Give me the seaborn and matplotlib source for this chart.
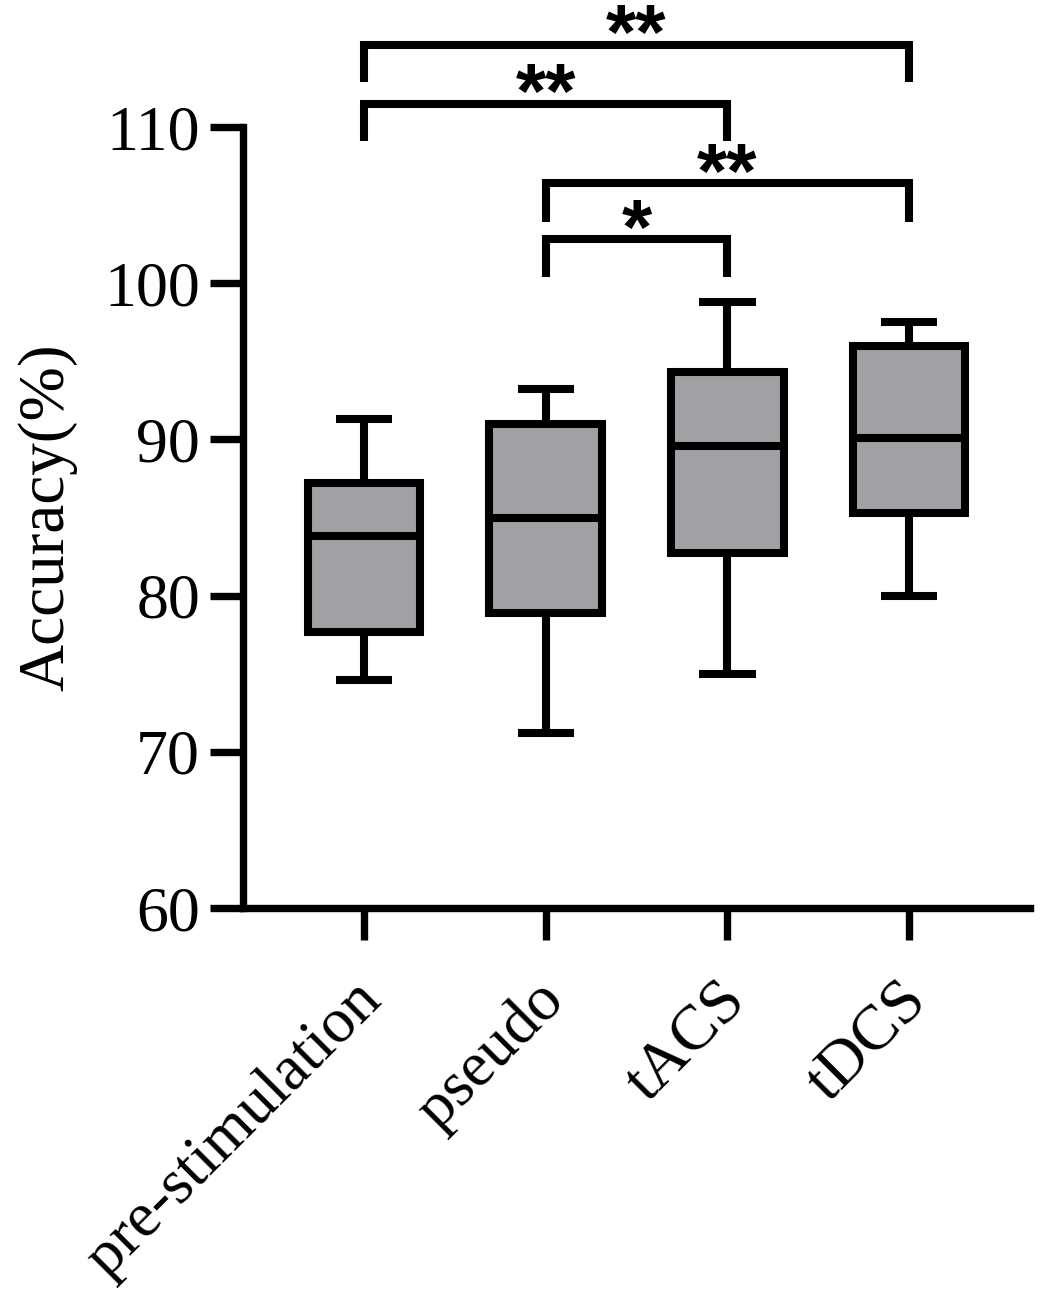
import matplotlib
matplotlib.use("Agg")
import matplotlib.pyplot as plt
import matplotlib.transforms as mtransforms
import numpy as np
import pandas as pd
import seaborn as sns

# 各组五数概括（最小值, Q1, 中位数, Q3, 最大值）
groups = ["pre-stimulation", "pseudo", "tACS", "tDCS"]
pre_stimulation = [74.6, 77.7, 83.8, 87.2, 91.3]
pseudo = [71.2, 78.9, 85.0, 91.0, 93.2]
tacs = [75.0, 82.7, 89.6, 94.3, 98.8]
tdcs = [80.0, 85.3, 90.1, 96.0, 97.5]

# 显著性标记
bracket_pairs = [(0, 3), (0, 2), (1, 3), (1, 2)]
bracket_top = [115.25, 111.5, 106.4, 102.8]
bracket_end = [112.9, 109.1, 103.9, 100.4]
bracket_text = ["**", "**", "**", "*"]

df = pd.DataFrame({
    "group": np.repeat(groups, 5),
    "accuracy": pre_stimulation + pseudo + tacs + tdcs,
})

sns.set_style("ticks", rc={
    "axes.edgecolor": "black", "xtick.color": "black", "ytick.color": "black",
    "text.color": "black", "axes.labelcolor": "black",
})
plt.rcParams["font.family"] = ["Liberation Serif", "DejaVu Serif"]

lw = 5.8
fig = plt.figure(figsize=(10.4, 13), dpi=100)
ax = fig.add_axes([0.2337, 0.3015, 0.7567, 0.6008])

sns.boxplot(
    data=df, x="group", y="accuracy", order=groups,
    color="#a1a1a5", saturation=1, width=0.62,
    linewidth=lw, linecolor="black", whis=(0, 100), fliersize=0,
    boxprops=dict(joinstyle="miter"),
    capprops=dict(solid_capstyle="butt"),
    whiskerprops=dict(solid_capstyle="butt"),
    medianprops=dict(solid_capstyle="butt"),
    ax=ax,
)

ax.set_xlim(-0.666, 3.666)
ax.set_ylim(60, 110)
ax.set_yticks(np.arange(60, 111, 10))
sns.despine(ax=ax)
for side in ["left", "bottom"]:
    ax.spines[side].set_linewidth(5.3)
ax.tick_params(axis="y", length=24, width=5.3, labelsize=46, pad=7)
ax.tick_params(axis="x", length=23, width=5.3, labelsize=46, pad=37)
shift = mtransforms.ScaledTranslation(0.09, 0, fig.dpi_scale_trans)
for lab in ax.get_xticklabels():
    lab.set_rotation(45)
    lab.set_ha("right")
    lab.set_va("center")
    lab.set_rotation_mode("anchor")
    lab.set_transform(lab.get_transform() + shift)

ax.set_xlabel("")
ax.set_ylabel("Accuracy(%)", fontsize=47)
ax.yaxis.set_label_coords(-0.211, 0.5)

# 括号与星号
for (a, b), top, end, txt in zip(bracket_pairs, bracket_top, bracket_end, bracket_text):
    ax.plot([a, a, b, b], [end, top, top, end], color="black", lw=lw,
            solid_joinstyle="miter", solid_capstyle="butt", clip_on=False)
    ax.text((a + b) / 2, top + 0.4, txt, ha="center", va="center",
            fontsize=56, fontweight="bold", family=["Liberation Sans", "DejaVu Sans"],
            clip_on=False)

fig.savefig("out.png", dpi=100)
